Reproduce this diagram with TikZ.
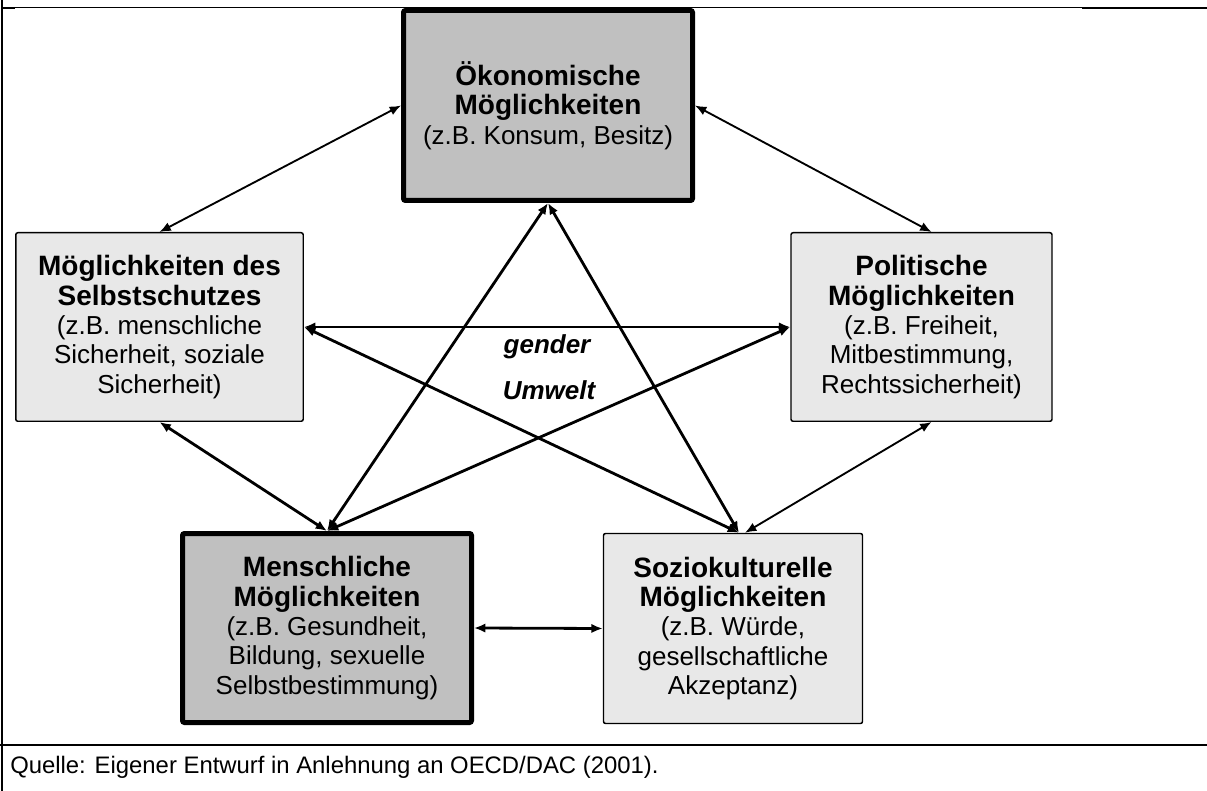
\documentclass[tikz,border=0pt]{standalone}
\usepackage{fontspec}
\setmainfont{Liberation Sans}
\usetikzlibrary{arrows.meta,calc}
\definecolor{darkfill}{RGB}{192,192,192}
\definecolor{lightfill}{RGB}{232,232,232}
\newcommand{\hd}[1]{{\fontsize{21}{22}\selectfont\bfseries #1}}
\tikzset{
 box/.style={draw=black, rectangle, rounded corners=1.5pt, align=center, inner sep=0pt, font=\fontsize{19.5}{22}\selectfont, text=black},
 boxmain/.style={box, fill=darkfill, line width=3.75pt},
 boxside/.style={box, fill=lightfill, line width=1.1pt},
 link/.style={{Latex[length=8.5pt,width=7pt]}-{Latex[length=8.5pt,width=7pt]}, line width=1.4pt},
 starlink/.style={link, line width=2.1pt},
 framethin/.style={line width=1pt},
 framethick/.style={line width=1.6pt},
 centertext/.style={font=\bfseries\itshape\fontsize{19.5}{22}\selectfont, inner sep=1pt},
}
\begin{document}
\begin{tikzpicture}[x=0.75pt,y=-0.75pt]
\useasboundingbox (0,0) rectangle (1207,791);
% frame
\draw[framethick] (2,0) -- (2,791);
\draw[framethin] (2,7.5) -- (1082,7.5);
\draw[framethick] (1082,8) -- (1207,8);
\draw[framethick] (2,8) -- (15,8);
\draw[line width=2pt] (0,745) -- (1207,745);
\node[anchor=west, inner sep=0pt, font=\fontsize{17.9}{20}\selectfont] (caption) at (10,767) {Quelle: Eigener Entwurf in Anlehnung an OECD/DAC (2001).};

% boxes
\node[boxmain, minimum width=216.75pt, minimum height=142.5pt] (oeko) at (548,105.5)
 {\hd{Ökonomische}\\\hd{Möglichkeiten}\\(z.B. Konsum, Besitz)};
\node[boxside, minimum width=215.6pt, minimum height=141.4pt] (selbst) at (159.5,327)
 {\hd{Möglichkeiten des}\\\hd{Selbstschutzes}\\(z.B. menschliche\\Sicherheit, soziale\\Sicherheit)};
\node[boxside, minimum width=195.75pt, minimum height=141.4pt] (polit) at (921.5,327)
 {\hd{Politische}\\\hd{Möglichkeiten}\\(z.B. Freiheit,\\Mitbestimmung,\\Rechtssicherheit)};
\node[boxmain, minimum width=216.75pt, minimum height=141.75pt] (mensch) at (327,628)
 {\hd{Menschliche}\\\hd{Möglichkeiten}\\(z.B. Gesundheit,\\Bildung, sexuelle\\Selbstbestimmung)};
\node[boxside, minimum width=194.25pt, minimum height=142.5pt] (sozio) at (733,628.5)
 {\hd{Soziokulturelle}\\\hd{Möglichkeiten}\\(z.B. Würde,\\gesellschaftliche\\Akzeptanz)};

% center labels
\node[centertext] (gender) at (547,347) {gender};
\node[centertext] (umwelt) at (549,390) {Umwelt};

% outer connectors
\draw[link] (oeko.west) -- (selbst.north);
\draw[link] (oeko.east) -- ($(polit.north)+(10,0)$);
\draw[starlink] (selbst.south) -- (mensch.north);
\draw[link] ($(polit.south)+(10,0)$) -- ($(sozio.north)+(12,0)$);
\draw[starlink] (mensch.east) -- (sozio.west);
% star connectors
\draw[starlink] (selbst.east) -- (polit.west);
\draw[starlink] (oeko.south) -- (mensch.north);
\draw[starlink] (oeko.south) -- ($(sozio.north)+(6,0)$);
\draw[starlink] (selbst.east) -- ($(sozio.north)+(6,0)$);
\draw[starlink] (polit.west) -- (mensch.north);
\end{tikzpicture}
\end{document}
